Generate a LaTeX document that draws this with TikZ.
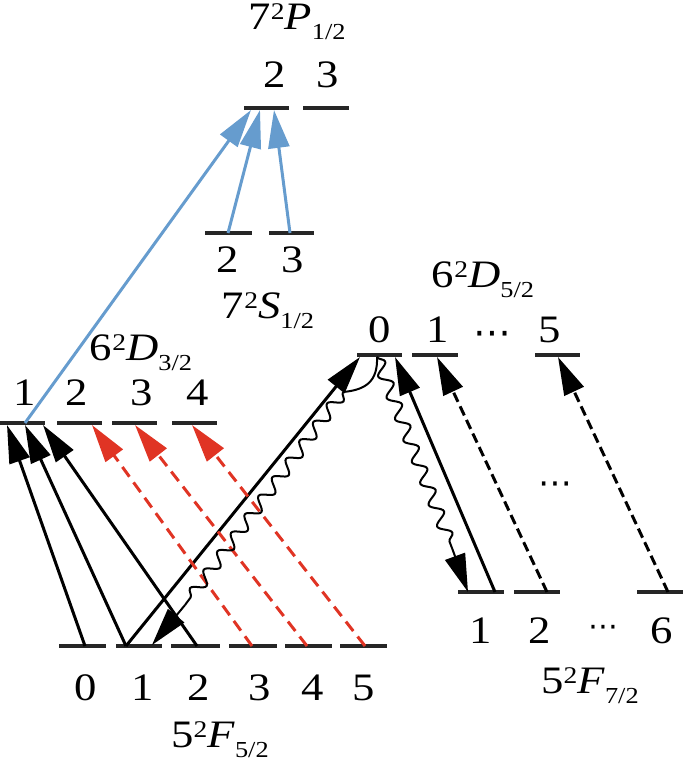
\documentclass[tikz,border=0pt]{standalone}
\usepackage{fontspec}
\setmainfont{Liberation Serif}[FakeStretch=1.15]
\newfontfamily\djv{DejaVu Sans}
\usetikzlibrary{arrows.meta,decorations.pathmorphing}
\newcommand{\term}[4]{#1\raisebox{10bp}{\fontsize{24}{24}\selectfont #2}\textit{#3}\/\raisebox{-10bp}{\fontsize{23}{23}\selectfont #4}}
\definecolor{lblue}{RGB}{102,156,206}
\definecolor{lred}{RGB}{224,52,36}
\tikzset{
  lvlline/.style={line width=4bp,draw=black!85},
  lab/.style={anchor=base,inner sep=0pt,font=\fontsize{39}{46}\selectfont},
  dots/.style={anchor=center,inner sep=0pt},
  tip/.style={-{Triangle[length=38bp,width=21bp]}},
  solidarr/.style={tip,line width=3bp,black},
  dasharr/.style={tip,line width=3bp,black,dash pattern=on 10bp off 5bp},
  redarr/.style={tip,line width=3bp,lred,dash pattern=on 12bp off 7bp},
  bluearr/.style={tip,line width=3bp,lblue},
  wavy/.style={line width=2bp,decorate,decoration={snake,amplitude=6bp,segment length=23bp}},
  wavyend/.style={tip,line width=2bp},
}
\newcommand{\lvl}[4]{\draw[lvlline] (#2,#4) -- (#3,#4); \coordinate (#1) at ({(#2+#3)/2},#4);}
\begin{document}
\begin{tikzpicture}[x=1bp,y=-1bp]
\useasboundingbox (0,0) rectangle (685,765);
% levels
\lvl{p2}{244}{289}{108}
\lvl{p3}{303}{349}{108}
\lvl{s2}{205}{252}{233}
\lvl{s3}{269}{314}{233}
\lvl{d31}{0}{45}{423}
\lvl{d32}{57}{102}{423}
\lvl{d33}{112}{157}{423}
\lvl{d34}{172}{217}{423}
\lvl{d50}{357}{402}{355}
\lvl{d51}{412}{458}{355}
\lvl{d55}{535}{580}{355}
\lvl{f71}{458}{504}{592}
\lvl{f72}{514}{560}{592}
\lvl{f76}{637}{683}{592}
\lvl{f50}{59}{106}{646}
\lvl{f51}{116}{162}{646}
\lvl{f52}{171}{220}{646}
\lvl{f53}{229}{277}{646}
\lvl{f54}{285}{332}{646}
\lvl{f55}{340}{387}{646}
% titles
\node[lab] (tP) at (297,30) {\term{7}{2}{P}{1/2}};
\node[lab] (tS) at (268,318) {\term{7}{2}{S}{1/2}};
\node[lab] (tD3) at (141,360) {\term{6}{2}{D}{3/2}};
\node[lab] (tD5) at (483,287) {\term{6}{2}{D}{5/2}};
\node[lab] (tF5) at (220,747) {\term{5}{2}{F}{5/2}};
\node[lab] (tF7) at (590,693) {\term{5}{2}{F}{7/2}};
% sublevel labels
\node[lab] (lp2) at (275,87) {2};
\node[lab] (lp3) at (328,87) {3};
\node[lab] (ls2) at (228,272) {2};
\node[lab] (ls3) at (293,272) {3};
\node[lab] (ld31) at (25,405) {1};
\node[lab] (ld32) at (77,405) {2};
\node[lab] (ld33) at (142,405) {3};
\node[lab] (ld34) at (198,405) {4};
\node[lab] (ld50) at (380,342) {0};
\node[lab] (ld51) at (438,342) {1};
\node[dots,font=\djv\fontsize{38}{44}\selectfont] (ld5d) at (492,338) {⋯};
\node[lab] (ld55) at (550,342) {5};
\node[lab] (lf50) at (86,700) {0};
\node[lab] (lf51) at (143,700) {1};
\node[lab] (lf52) at (199,700) {2};
\node[lab] (lf53) at (260,700) {3};
\node[lab] (lf54) at (313,700) {4};
\node[lab] (lf55) at (364,700) {5};
\node[lab] (lf71) at (481,643) {1};
\node[lab] (lf72) at (540,643) {2};
\node[dots,font=\djv\fontsize{30}{36}\selectfont] (lf7d) at (603,631) {⋯};
\node[lab] (lf76) at (662,643) {6};
\node[dots,font=\djv\fontsize{34}{40}\selectfont] (mid) at (555,488) {⋯};
% endpoints
\coordinate (a1) at (85,646);  \coordinate (b1) at (7,425);
\coordinate (a2) at (126,646); \coordinate (b2) at (25,425);
\coordinate (a3) at (197,646); \coordinate (b3) at (43,425);
\coordinate (b4) at (360,357);
\coordinate (a5) at (495,592); \coordinate (b5) at (395,357);
\coordinate (a6) at (547,592); \coordinate (b6) at (437,357);
\coordinate (a7) at (668,592); \coordinate (b7) at (558,357);
\coordinate (r1a) at (252,646); \coordinate (r1b) at (92,425);
\coordinate (r2a) at (307,646); \coordinate (r2b) at (135,425);
\coordinate (r3a) at (365,646); \coordinate (r3b) at (192,425);
\coordinate (u1a) at (25,423);  \coordinate (u1b) at (251,110);
\coordinate (u2a) at (228,233); \coordinate (u2b) at (260,110);
\coordinate (u3a) at (290,233); \coordinate (u3b) at (274,110);
\coordinate (w0) at (377,357);
\coordinate (w1) at (343,392); \coordinate (w2) at (185,605); \coordinate (w3) at (152,645);
\coordinate (v1) at (452,548); \coordinate (v2) at (468,592);
% black solid arrows
\draw[solidarr] (a1) -- (b1);
\draw[solidarr] (a2) -- (b2);
\draw[solidarr] (a3) -- (b3);
\draw[solidarr] (a2) -- (b4);
\draw[solidarr] (a5) -- (b5);
% black dashed
\draw[dasharr] (a6) -- (b6);
\draw[dasharr] (a7) -- (b7);
% red dashed
\draw[redarr] (r1a) -- (r1b);
\draw[redarr] (r2a) -- (r2b);
\draw[redarr] (r3a) -- (r3b);
% blue
\draw[bluearr] (u1a) -- (u1b);
\draw[bluearr] (u2a) -- (u2b);
\draw[bluearr] (u3a) -- (u3b);
% wavy decays
\draw[line width=2bp] (w0) .. controls (378,382) and (365,390) .. (w1);
\draw[wavy] (w1) -- (w2);
\draw[wavyend] (w2) -- (w3);
\draw[wavy] (w0) -- (v1);
\draw[wavyend] (v1) -- (v2);
\end{tikzpicture}
\end{document}
